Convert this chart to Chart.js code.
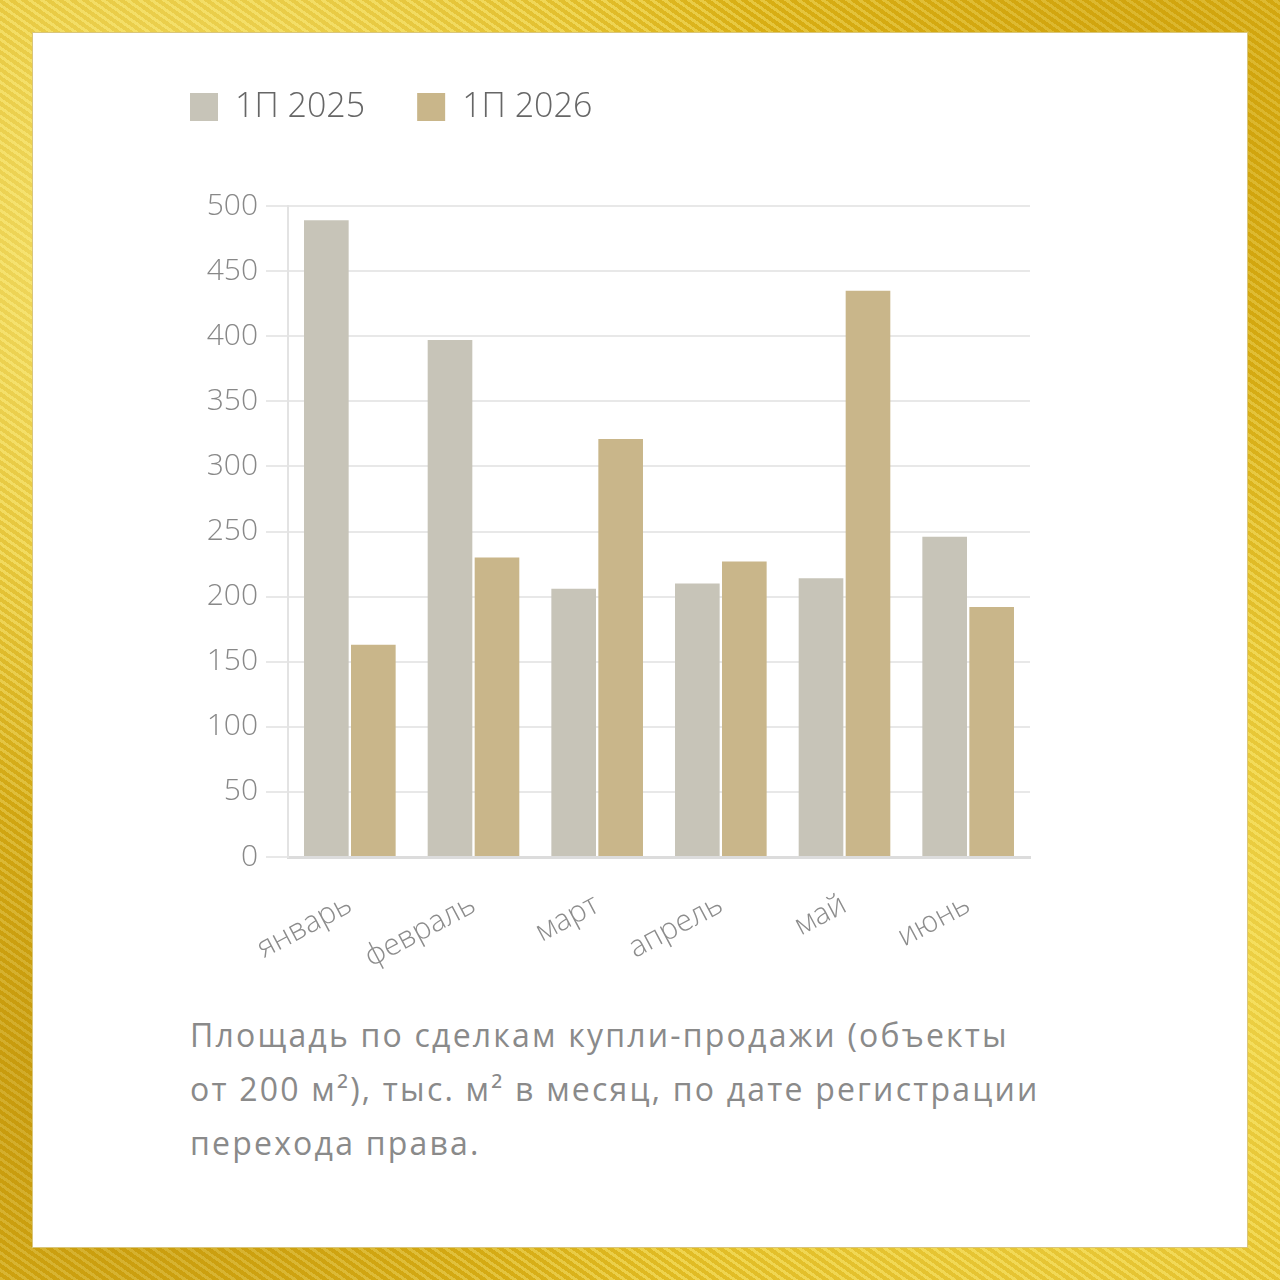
<!DOCTYPE html>
<html>
<head>
<meta charset="utf-8">
<script src="https://cdn.jsdelivr.net/npm/chart.js@4.4.1/dist/chart.umd.min.js"></script>
<style>
  html, body { margin: 0; padding: 0; }
  body {
    width: 1280px; height: 1280px; position: relative; overflow: hidden;
    background:
      radial-gradient(ellipse at 15% 20%, rgba(255,245,150,0.7), transparent 40%),
      radial-gradient(ellipse at 85% 75%, rgba(255,240,120,0.6), transparent 45%),
      radial-gradient(ellipse at 10% 85%, rgba(170,120,0,0.5), transparent 35%),
      radial-gradient(ellipse at 90% 10%, rgba(190,140,0,0.45), transparent 35%),
      repeating-linear-gradient(35deg, rgba(255,255,200,0.25) 0 3px, rgba(180,130,0,0.2) 3px 7px),
      #e6bf1c;
  }
  #panel {
    position: absolute; left: 32px; top: 32px; width: 1214px; height: 1214px;
    background: #fff; border: 1px solid #d9c57a;
  }
  #chart { position: absolute; left: 0; top: 0; }
  #caption {
    position: absolute; left: 190px; top: 1008px; width: 950px;
    font-family: "Open Sans", sans-serif; font-size: 32px; line-height: 54px;
    letter-spacing: 2.2px; color: #8a8a8a; white-space: nowrap;
  }
</style>
</head>
<body>
<div id="panel"></div>
<canvas id="chart" width="1280" height="1000"></canvas>
<div id="caption">Площадь по сделкам купли-продажи (объекты<br>от 200 м²), тыс. м² в месяц, по дате регистрации<br>перехода права.</div>
<script>
const months = ['январь', 'февраль', 'март', 'апрель', 'май', 'июнь'];
const h1_2025 = [489, 397, 206, 210, 214, 246];
const h1_2026 = [163, 230, 321, 227, 435, 192];
const yTicks = [0, 50, 100, 150, 200, 250, 300, 350, 400, 450, 500];

const tickFont = {family: '"Open Sans", sans-serif', size: 30, weight: 300};

const chart = new Chart(document.getElementById('chart'), {
  type: 'bar',
  data: {
    labels: months,
    datasets: [{
      label: '1П 2025',
      data: h1_2025,
      backgroundColor: '#c7c4b8'
    }, {
      label: '1П 2026',
      data: h1_2026,
      backgroundColor: '#c9b68a'
    }]
  },
  options: {
    responsive: false,
    animation: false,
    categoryPercentage: 0.76,
    barPercentage: 0.95,
    layout: {padding: {left: 138, right: 250, top: 38, bottom: 0}},
    plugins: {
      tooltip: {enabled: false},
      legend: {
        position: 'top',
        align: 'start',
        labels: {
          boxWidth: 28,
          boxHeight: 28,
          padding: 52,
          color: '#666666',
          font: {family: '"Open Sans", sans-serif', size: 34, weight: 300}
        }
      }
    },
    scales: {
      x: {
        grid: {display: false},
        border: {color: '#dcdcdc', width: 3},
        ticks: {
          color: '#8c8c8c',
          font: tickFont,
          minRotation: 28,
          maxRotation: 28,
          padding: 22
        },
        afterFit: scale => { scale.height = 143; }
      },
      y: {
        min: 0,
        max: 500,
        afterBuildTicks: scale => { scale.ticks = yTicks.map(v => ({value: v})); },
        grid: {color: '#e8e8e8', lineWidth: 2, tickLength: 22},
        border: {color: '#e3e3e3', width: 2},
        ticks: {color: '#888888', font: tickFont, padding: 8},
        afterFit: scale => { scale.width = 150; }
      }
    }
  },
  plugins: [{
    id: 'legendHeight',
    beforeInit(c) {
      const orig = c.legend.fit;
      c.legend.fit = function () {
        orig.call(this);
        this.height = 168;
      };
    }
  }]
});
</script>
</body>
</html>
